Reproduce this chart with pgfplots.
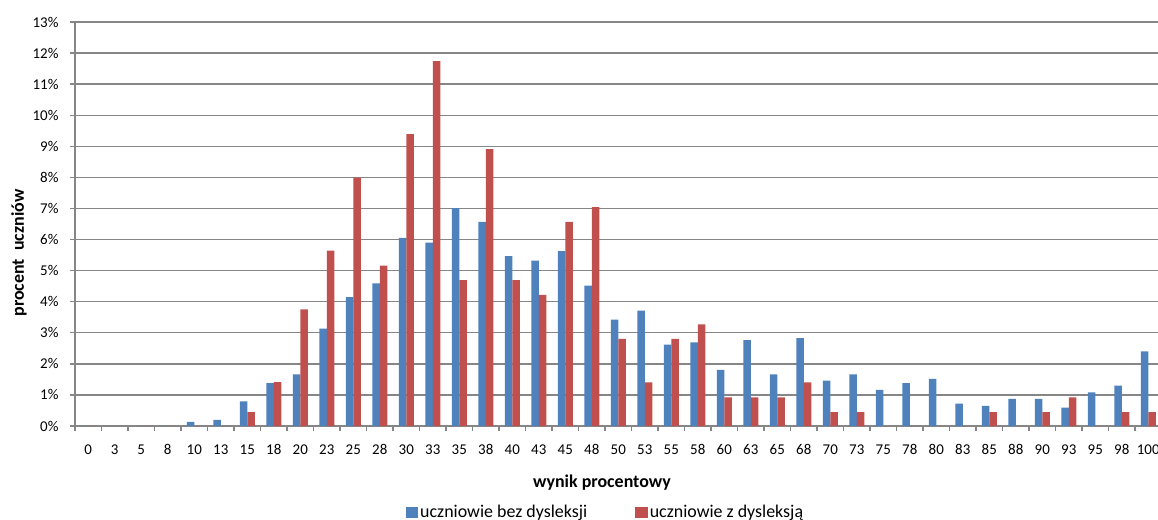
\documentclass[border=0pt]{standalone}
\usepackage{fontspec}
\setmainfont{Carlito}
\usepackage{pgfplots}
\pgfplotsset{compat=1.18}
\usepackage{pgfplotstable}

\definecolor{barblue}{HTML}{4F81BD}
\definecolor{barred}{HTML}{C0504D}
\definecolor{axgray}{HTML}{868686}

% idx = category position, wynik = label, bez / z = percent of students
\pgfplotstableread{
idx wynik bez z
0   0   0    0
1   3   0    0
2   5   0    0
3   8   0    0
4   10  0.13 0
5   13  0.20 0
6   15  0.79 0.45
7   18  1.38 1.41
8   20  1.66 3.75
9   23  3.13 5.64
10  25  4.15 7.99
11  28  4.59 5.16
12  30  6.05 9.39
13  33  5.90 11.74
14  35  7.01 4.69
15  38  6.57 8.91
16  40  5.47 4.69
17  43  5.32 4.22
18  45  5.63 6.57
19  48  4.52 7.04
20  50  3.42 2.80
21  53  3.71 1.40
22  55  2.62 2.80
23  58  2.69 3.27
24  60  1.81 0.92
25  63  2.76 0.92
26  65  1.66 0.92
27  68  2.83 1.40
28  70  1.46 0.45
29  73  1.66 0.45
30  75  1.16 0
31  78  1.38 0
32  80  1.52 0
33  83  0.72 0
34  85  0.65 0.45
35  88  0.87 0
36  90  0.87 0.45
37  93  0.59 0.92
38  95  1.08 0
39  98  1.30 0.45
40  100 2.40 0.45
}\wyniki

\begin{document}
\begin{tikzpicture}
  \clip (-75bp,-94bp) rectangle (1083bp,426bp);
  \begin{axis}[
    at={(0,0)}, anchor=south west,
    x=26.5bp, y=31.077bp,
    xmin=-0.5, xmax=40.5, ymin=0, ymax=13,
    ybar=0pt, bar width=7.5bp,
    axis lines*=left,
    axis line style={axgray, line width=1.4bp},
    xtick={0,...,40},
    xticklabels={0,3,5,8,10,13,15,18,20,23,25,28,30,33,35,38,40,43,45,48,50,53,55,58,60,63,65,68,70,73,75,78,80,83,85,88,90,93,95,98,100},
    major x tick style={draw=none},
    minor xtick={-0.5,0.5,...,40.5},
    minor x tick style={axgray, line width=1.4bp},
    minor tick length=5bp,
    ytick={0,...,13},
    yticklabel={\pgfmathprintnumber{\tick}\%},
    major y tick style={axgray, line width=1.4bp},
    major tick length=5bp,
    tick align=outside,
    ymajorgrids,
    major grid style={axgray, line width=1.4bp},
    /pgf/number format/assume math mode=true,
    tick label style={font=\fontsize{15}{17}\selectfont, black},
    xticklabel style={yshift=-10bp},
    yticklabel style={xshift=-8bp},
    xlabel={\textbf{wynik procentowy}},
    xlabel style={at={(axis description cs:0.485,-0.141)}, anchor=center, font=\fontsize{18}{20}\selectfont},
    ylabel={\textbf{procent\ \ uczniów}},
    ylabel style={at={(axis description cs:-0.0515,0.428)}, anchor=center, font=\fontsize{18}{20}\selectfont},
    legend columns=2,
    legend style={at={(axis description cs:0.4882,-0.213)}, anchor=center, draw=none,
      font=\fontsize{18}{20}\selectfont,
      /tikz/every even column/.append style={column sep=46bp}},
    legend image code/.code={\fill[#1] (0bp,-5.5bp) rectangle (12.5bp,5.5bp);},
  ]
    \addplot[fill=barblue, draw=none] table[x=idx, y=bez] {\wyniki};
    \addplot[fill=barred, draw=none] table[x=idx, y=z] {\wyniki};
    \legend{uczniowie bez dysleksji, uczniowie z dysleksją}
  \end{axis}
\end{tikzpicture}
\end{document}
